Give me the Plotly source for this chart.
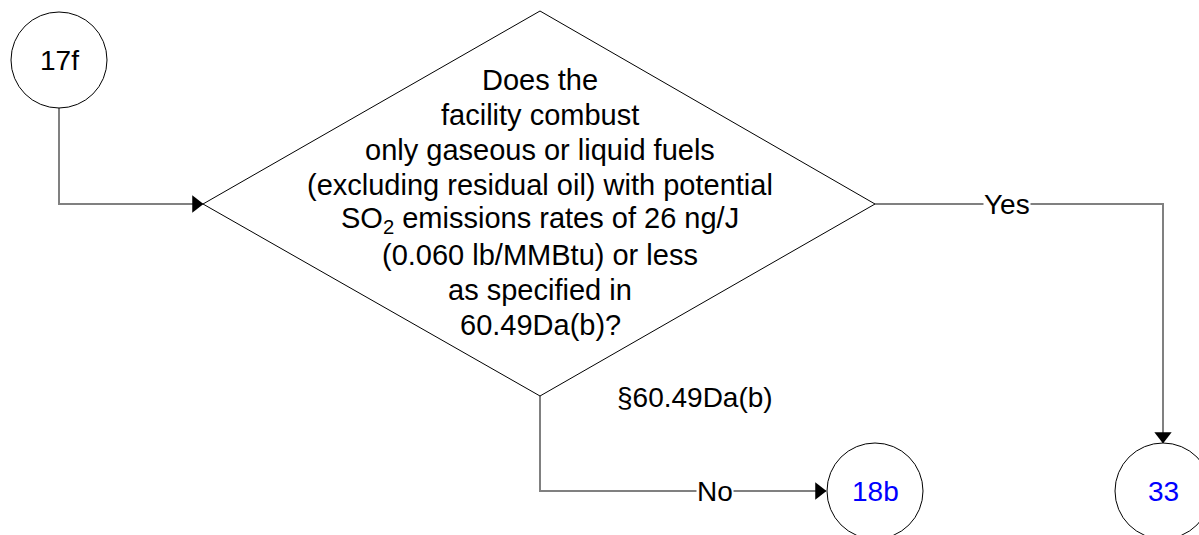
import plotly.graph_objects as go

# ---- data ----
node_labels = ["17f", "18b", "33"]
node_x = [59, 875, 1163]
node_y = [60, 491, 491]
node_r = [48, 48, 48]
node_text_colors = ["#000000", "#0000FF", "#0000FF"]

diamond_x = [203, 540, 875, 540, 203]
diamond_y = [204, 11, 204, 396, 204]

question_lines = [
    "Does the",
    "facility combust",
    "only gaseous or liquid fuels",
    "(excluding residual oil) with potential",
    "SO<sub>2</sub> emissions rates of 26 ng/J",
    "(0.060 lb/MMBtu) or less",
    "as specified in",
    "60.49Da(b)?",
]
question_center_x = 540
question_line_y = [80, 115, 150, 185, 220, 255, 290, 325]

# connectors (polyline points)
edge_start_x = [[59, 59, 203], [540, 540, 826], [875, 1163, 1163]]
edge_start_y = [[108, 204, 204], [396, 491, 491], [204, 204, 443]]
edge_labels = ["", "No", "Yes"]
edge_label_x = [None, 715, 1007]
edge_label_y = [None, 491, 204]
arrow_dirs = ["triangle-right", "triangle-right", "triangle-down"]

ref_label = "§60.49Da(b)"
ref_x = 695
ref_y = 397

FONT = "Arial, Liberation Sans, sans-serif"
FS = 29

fig = go.Figure()

# connectors
for xs, ys, sym in zip(edge_start_x, edge_start_y, arrow_dirs):
    fig.add_trace(go.Scatter(x=xs, y=ys, mode="lines",
                             line=dict(color="#808080", width=2),
                             hoverinfo="skip", showlegend=False))
    tx, ty = xs[-1], ys[-1]
    if sym == "triangle-right":
        mx, my = tx - 7, ty
    else:
        mx, my = tx, ty - 7
    fig.add_trace(go.Scatter(x=[mx], y=[my], mode="markers",
                             marker=dict(symbol=sym, size=15, color="black",
                                         line=dict(width=0)),
                             hoverinfo="skip", showlegend=False))

# diamond
fig.add_trace(go.Scatter(x=diamond_x, y=diamond_y, mode="lines",
                         line=dict(color="black", width=1),
                         hoverinfo="skip", showlegend=False))

shapes = []
for x, y, r in zip(node_x, node_y, node_r):
    shapes.append(dict(type="circle", xref="x", yref="y",
                       x0=x - r, x1=x + r, y0=y - r, y1=y + r,
                       line=dict(color="black", width=1),
                       fillcolor="white", layer="above"))

annotations = []
for lab, x, y, c in zip(node_labels, node_x, node_y, node_text_colors):
    annotations.append(dict(x=x, y=y, text=lab, showarrow=False,
                            font=dict(family=FONT, size=FS - 1, color=c),
                            xanchor="center", yanchor="middle"))

for line, y in zip(question_lines, question_line_y):
    annotations.append(dict(x=question_center_x, y=y, text=line, showarrow=False,
                            font=dict(family=FONT, size=FS, color="black"),
                            xanchor="center", yanchor="middle"))

for lab, x, y in zip(edge_labels, edge_label_x, edge_label_y):
    if lab:
        annotations.append(dict(x=x, y=y, text=lab, showarrow=False,
                                font=dict(family=FONT, size=FS - 1, color="black"),
                                bgcolor="white", borderpad=0,
                                xanchor="center", yanchor="middle"))

annotations.append(dict(x=ref_x, y=ref_y, text=ref_label, showarrow=False,
                        font=dict(family=FONT, size=FS - 1, color="black"),
                        xanchor="center", yanchor="middle"))

fig.update_layout(
    width=1199, height=535,
    margin=dict(l=0, r=0, t=0, b=0),
    paper_bgcolor="white", plot_bgcolor="white",
    xaxis=dict(range=[0, 1199], visible=False, fixedrange=True),
    yaxis=dict(range=[535, 0], visible=False, fixedrange=True),
    shapes=shapes, annotations=annotations,
    showlegend=False,
)

fig.write_html("out.html", config={"displayModeBar": False},
               post_script="document.body.style.margin='0';document.body.style.overflow='hidden';")
